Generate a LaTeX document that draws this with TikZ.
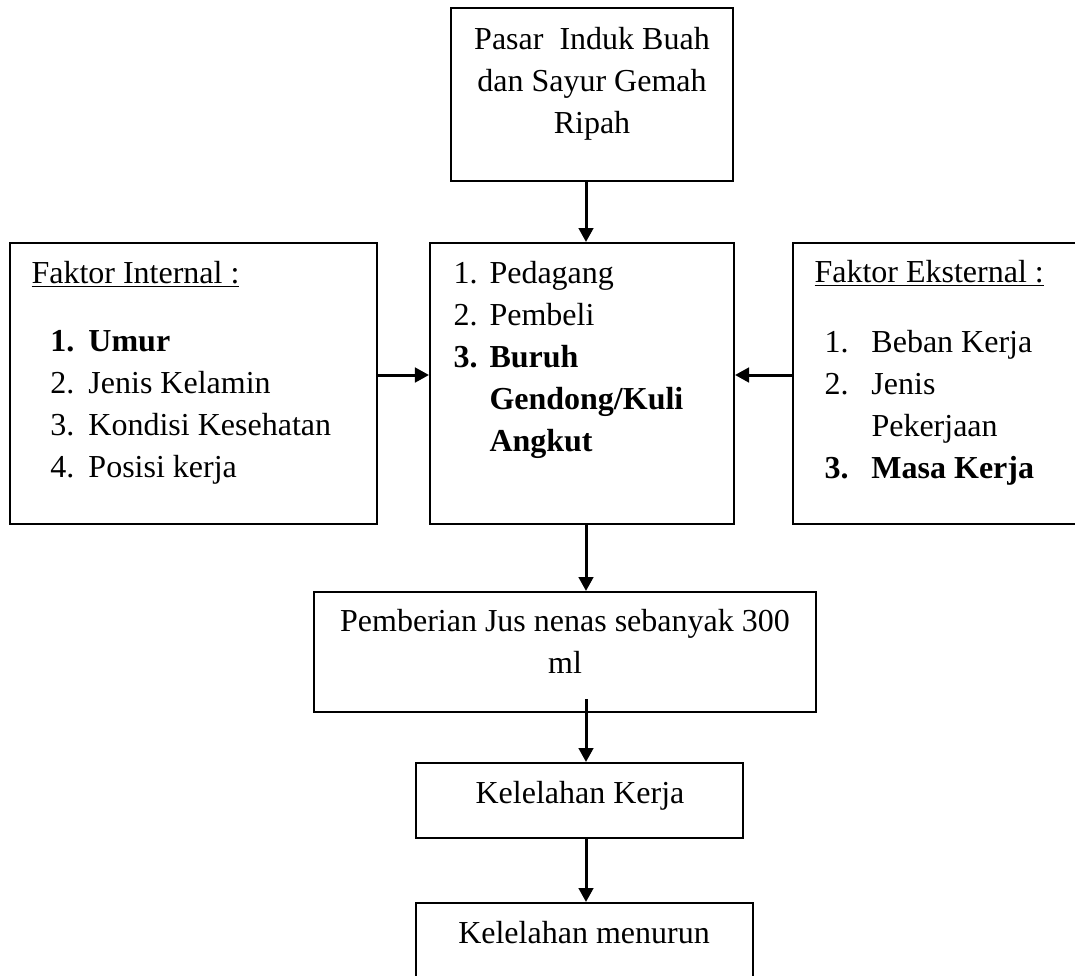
\documentclass[tikz,border=0pt]{standalone}
\usepackage{fontspec}
\setmainfont{Liberation Serif}
\usetikzlibrary{arrows.meta,positioning}
\tikzset{font=\fontsize{12.8pt}{16.8pt}\selectfont}
\tikzset{box/.style={draw,line width=0.8pt,inner sep=0pt}}
\tikzset{txt/.style={inner sep=0pt,align=left,anchor=base west}}
\tikzset{ctr/.style={inner sep=0pt,align=center,anchor=base}}
\tikzset{arr/.style={line width=1.2pt,-{Triangle[length=5.6pt,width=5.8pt]}}}
\newcommand{\listnum}[2][15.2pt]{\makebox[#1][l]{#2}}

\begin{document}
\begin{tikzpicture}[x=0.4pt,y=-0.4pt]
  \useasboundingbox (0,0) rectangle (1075,975);
  % boxes
  \node[box,minimum width=112.8pt,minimum height=69.2pt] (pasar) at (592,94.5) {};
  \node[box,minimum width=146.8pt,minimum height=112.4pt] (internal) at (193.5,383.5) {};
  \node[box,minimum width=121.6pt,minimum height=112.4pt] (subjek) at (582,383.5) {};
  \node[box,minimum width=120pt,minimum height=112.4pt] (eksternal) at (943,383.5) {};
  \node[box,minimum width=200.8pt,minimum height=48pt] (jus) at (565,652) {};
  \node[box,minimum width=130.8pt,minimum height=30pt] (lelah) at (579.5,800.5) {};
  \node[box,minimum width=134.8pt,minimum height=44pt] (turun) at (584.5,958) {};

  % texts (base = baseline of the last line)
  \node[ctr] (pasartxt) at (592,133) {Pasar\ \ Induk Buah\\dan Sayur Gemah\\Ripah};
  \node[txt] (internaljudul) at (31,283) {\underline{Faktor Internal :}};
  \node[txt] (internaltxt) at (50,477) {\textbf{\listnum{1.}Umur}\\
    \listnum{2.}Jenis Kelamin\\
    \listnum{3.}Kondisi Kesehatan\\
    \listnum{4.}Posisi kerja};
  \node[txt] (subjektxt) at (453,451) {\listnum[14.4pt]{1.}Pedagang\\
    \listnum[14.4pt]{2.}Pembeli\\
    \textbf{\listnum[14.4pt]{3.}Buruh}\\
    \textbf{\listnum[14.4pt]{}Gendong/Kuli}\\
    \textbf{\listnum[14.4pt]{}Angkut}};
  \node[txt] (eksternaljudul) at (814,282) {\underline{Faktor Eksternal :}};
  \node[txt] (eksternaltxt) at (824,478) {\listnum[18.8pt]{1.}Beban Kerja\\
    \listnum[18.8pt]{2.}Jenis\\
    \listnum[18.8pt]{}Pekerjaan\\
    \textbf{\listnum[18.8pt]{3.}Masa Kerja}};
  \node[ctr] (justxt) at (565,673) {Pemberian Jus nenas sebanyak 300\\ml};
  \node[ctr] (lelahtxt) at (580,803) {Kelelahan Kerja};
  \node[ctr] (turuntxt) at (584,943) {Kelelahan menurun};

  % connectors
  \coordinate (axis) at (586,0);
  \coordinate (side) at (0,375);
  \draw[arr] (pasar.south -| axis) -- (subjek.north -| axis);
  \draw[arr] (internal.east |- side) -- (subjek.west |- side);
  \draw[arr] (eksternal.west |- side) -- (subjek.east |- side);
  \draw[arr] (subjek.south -| axis) -- (jus.north -| axis);
  \draw[arr] ([yshift=5.6pt]jus.south -| axis) -- (lelah.north -| axis);
  \draw[arr] (lelah.south -| axis) -- (turun.north -| axis);
\end{tikzpicture}
\end{document}
